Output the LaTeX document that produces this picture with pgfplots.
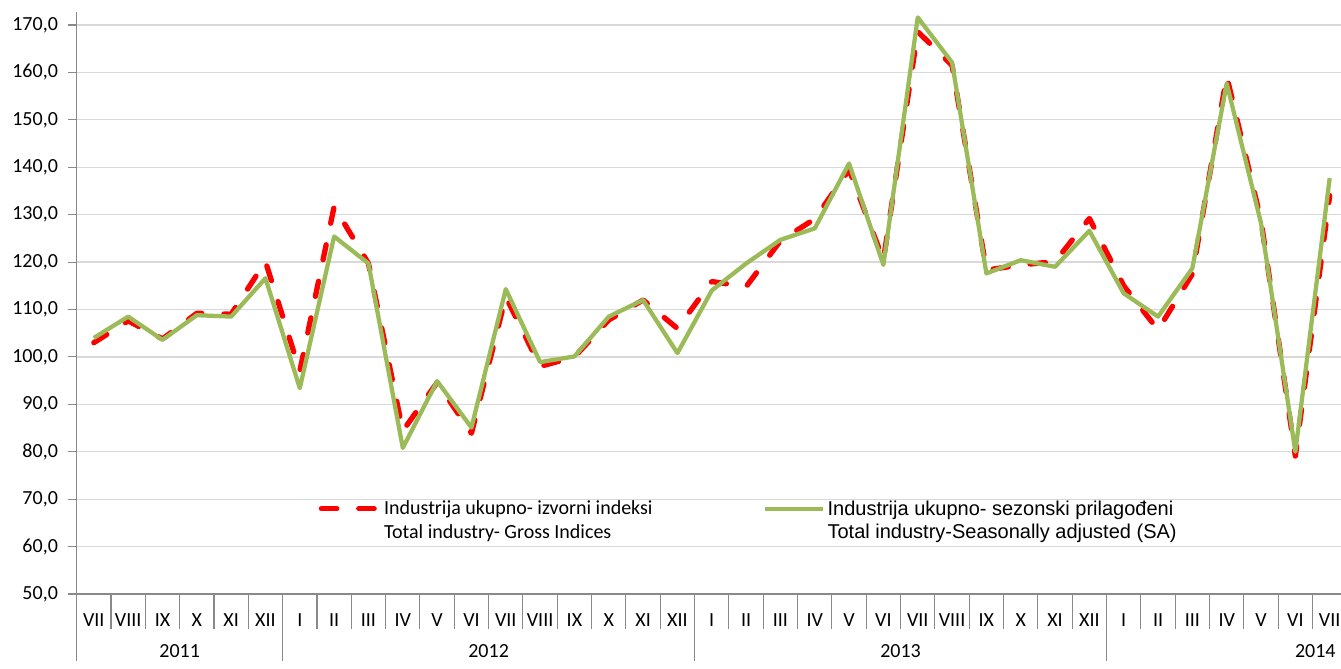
\documentclass[border=0pt]{standalone}
\usepackage{fontspec}
\setmainfont{Carlito}
\newfontfamily\arialfont{Liberation Sans}
\usepackage{pgfplots}
\pgfplotsset{compat=1.18}
\usepackage{pgfplotstable}
\definecolor{sagreen}{HTML}{9BBB59}
\definecolor{gridgray}{HTML}{D9D9D9}
\definecolor{axisgray}{HTML}{898989}

\pgfplotstableread{
i gross sa
0 103.0 104.0
1 107.6 108.5
2 103.8 103.6
3 109.2 108.8
4 109.0 108.5
5 120.1 116.6
6 97.0 93.4
7 131.7 125.4
8 119.7 119.7
9 84.4 80.8
10 94.6 94.9
11 83.9 85.1
12 112.7 114.3
13 98.0 98.9
14 100.0 100.1
15 107.8 108.5
16 112.0 112.0
17 106.0 100.8
18 115.9 114.0
19 114.8 119.7
20 124.5 124.7
21 129.1 127.1
22 139.5 140.8
23 120.4 119.4
24 168.6 171.6
25 161.5 162.1
26 118.3 117.6
27 119.4 120.4
28 120.1 119.0
29 129.2 126.6
30 115.0 113.4
31 105.7 108.5
32 117.5 118.7
33 159.2 157.7
34 128.8 128.2
35 79.1 80.0
36 134.0 137.7
}\datatable

\begin{document}
\begin{tikzpicture}
\path[use as bounding box] (-57.5pt,-55.5pt) rectangle (948.25pt,445.5pt);
\begin{axis}[
  at={(0pt,0pt)}, anchor=south west,
  scale only axis, width=948.25pt, height=436.5pt,
  xmin=-0.5, xmax=36.33, ymin=50, ymax=172.74,
  clip=false,
  axis x line*=bottom, axis y line*=left,
  axis line style={draw=axisgray, line width=0.8pt},
  ytick={50,60,...,170},
  ymajorgrids, grid style={draw=gridgray, line width=1pt},
  tick align=outside, major tick length=6.75pt,
  y tick style={draw=axisgray, line width=0.8pt},
  x tick style={draw=none},
  /pgf/number format/assume math mode=true,
  yticklabel style={/pgf/number format/.cd, fixed, fixed zerofill, precision=1, use comma, /tikz/.cd, font=\fontsize{15}{18}\selectfont, xshift=-3.8pt},
  xtick={0,...,36},
  xticklabels={VII,VIII,IX,X,XI,XII,I,II,III,IV,V,VI,VII,VIII,IX,X,XI,XII,I,II,III,IV,V,VI,VII,VIII,IX,X,XI,XII,I,II,III,IV,V,VI,VII},
  xticklabel style={font=\fontsize{15}{18}\selectfont, anchor=base, yshift=-17.5pt},
  legend columns=2,
  legend style={at={(rel axis cs:0.1915,0.1648)}, anchor=north west, draw=none, fill=none,
    cells={align=left, anchor=west}, row sep=0pt, inner sep=0pt, outer sep=0pt,
    /tikz/every even column/.append style={column sep=81pt},
    font=\fontsize{15}{17.5}\selectfont},
  legend image code/.code={\path[draw=none, fill=none] (0pt,-11pt) rectangle (43pt,11pt); \draw[#1] (0pt,9pt) -- (43pt,9pt);},
]
\addplot[color=red, line width=4pt, line cap=round, line join=round, dash pattern=on 11.5pt off 16.5pt] table[x=i, y=gross] {\datatable};
\addlegendentry{Industrija ukupno- izvorni indeksi\\Total industry- Gross Indices}
\addplot[color=sagreen, line width=3.2pt, line join=round] table[x=i, y=sa] {\datatable};
\addlegendentry{\arialfont Industrija ukupno- sezonski prilagođeni\\\arialfont Total industry-Seasonally adjusted (SA)}
\pgfplotsinvokeforeach{0.5,1.5,2.5,3.5,4.5,6.5,7.5,8.5,9.5,10.5,11.5,12.5,13.5,14.5,15.5,16.5,18.5,19.5,20.5,21.5,22.5,23.5,24.5,25.5,26.5,27.5,28.5,30.5,31.5,32.5,33.5,34.5,35.5}{
  \draw[axisgray, line width=0.8pt] (axis cs:#1,50) -- ++(0pt,-26pt);
}
\pgfplotsinvokeforeach{-0.5,5.5,17.5,29.5}{
  \draw[axisgray, line width=0.8pt] (axis cs:#1,50) -- ++(0pt,-50.5pt);
}
\node[anchor=base, font=\fontsize{15}{18}\selectfont] at ([yshift=-47.3pt]axis cs:2.5,50) {2011};
\node[anchor=base, font=\fontsize{15}{18}\selectfont] at ([yshift=-47.3pt]axis cs:11.5,50) {2012};
\node[anchor=base, font=\fontsize{15}{18}\selectfont] at ([yshift=-47.3pt]axis cs:23.5,50) {2013};
\node[anchor=base, font=\fontsize{15}{18}\selectfont] at ([yshift=-47.3pt]axis cs:35.58,50) {2014};
\end{axis}
\end{tikzpicture}
\end{document}
